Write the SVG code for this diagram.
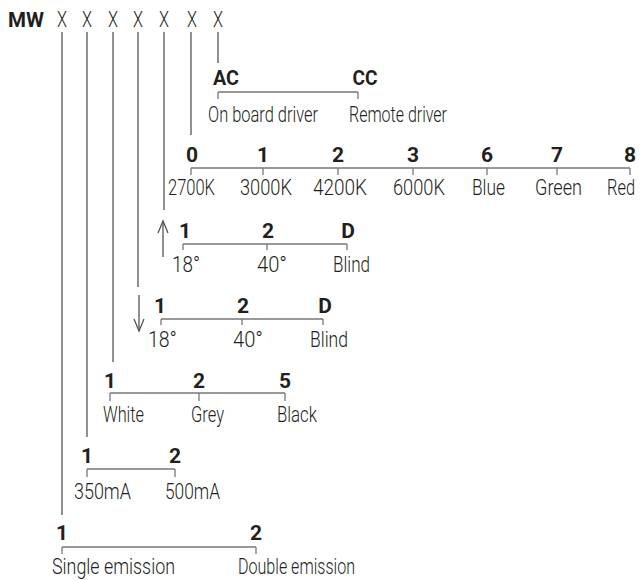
<svg xmlns="http://www.w3.org/2000/svg" width="644" height="580" viewBox="0 0 644 580">
<style>
text{font-family:Roboto,"Liberation Sans",Arial,sans-serif;fill:#231f20}
.n{font-weight:bold;font-size:21px;text-anchor:middle}
.l{font-size:22px;font-weight:300}
.x{font-size:22px;font-weight:300}
.c line,.c polyline{stroke:#555;stroke-width:1.3;fill:none}
.b line{stroke:#777;stroke-width:1.3}
</style>
<rect width="644" height="580" fill="#fff"/>
<g id="code">
<text x="8" y="27" font-weight="bold" font-size="21" textLength="36" lengthAdjust="spacingAndGlyphs">MW</text>
<text class="x" x="57" y="27" textLength="10" lengthAdjust="spacingAndGlyphs">X</text><text class="x" x="82" y="27" textLength="10" lengthAdjust="spacingAndGlyphs">X</text><text class="x" x="108" y="27" textLength="10" lengthAdjust="spacingAndGlyphs">X</text><text class="x" x="133" y="27" textLength="10" lengthAdjust="spacingAndGlyphs">X</text><text class="x" x="159" y="27" textLength="10" lengthAdjust="spacingAndGlyphs">X</text><text class="x" x="187" y="27" textLength="10" lengthAdjust="spacingAndGlyphs">X</text><text class="x" x="213" y="27" textLength="10" lengthAdjust="spacingAndGlyphs">X</text>
</g>
<g id="connectors" class="c">
<line x1="62" y1="32" x2="62" y2="515"/>
<line x1="87" y1="32" x2="87" y2="437"/>
<line x1="113" y1="32" x2="113" y2="362"/>
<line x1="138" y1="32" x2="138" y2="287"/>
<line x1="164" y1="32" x2="164" y2="210"/>
<line x1="191" y1="32" x2="191" y2="135"/>
<line x1="218" y1="32" x2="218" y2="63"/>
<line x1="163" y1="257" x2="163" y2="221"/>
<polyline points="158,233 163,221 168,233"/>
<line x1="139" y1="295" x2="139" y2="331"/>
<polyline points="134,319 139,331 144,319"/>
</g>
<g id="driver" class="b">
<text class="n" x="226" y="85" textLength="26" lengthAdjust="spacingAndGlyphs">AC</text><text class="n" x="365" y="85" textLength="25" lengthAdjust="spacingAndGlyphs">CC</text>
<line x1="218" y1="92" x2="358" y2="92"/><line x1="218" y1="92" x2="218" y2="99"/><line x1="358" y1="92" x2="358" y2="99"/>
<text class="l" x="208" y="122" textLength="110" lengthAdjust="spacingAndGlyphs">On board driver</text>
<text class="l" x="349" y="122" textLength="98" lengthAdjust="spacingAndGlyphs">Remote driver</text>
</g>
<g id="colour-temp" class="b">
<text class="n" x="192" y="162">0</text><text class="n" x="263" y="162">1</text><text class="n" x="338" y="162">2</text><text class="n" x="413" y="162">3</text><text class="n" x="487" y="162">6</text><text class="n" x="557" y="162">7</text><text class="n" x="630" y="162">8</text>
<line x1="191" y1="168" x2="630" y2="168"/>
<line x1="191" y1="168" x2="191" y2="175"/><line x1="263" y1="168" x2="263" y2="175"/><line x1="338" y1="168" x2="338" y2="175"/><line x1="413" y1="168" x2="413" y2="175"/><line x1="487" y1="168" x2="487" y2="175"/><line x1="557" y1="168" x2="557" y2="175"/><line x1="630" y1="168" x2="630" y2="175"/>
<text class="l" x="168" y="195" textLength="47" lengthAdjust="spacingAndGlyphs">2700K</text>
<text class="l" x="240" y="195" textLength="52" lengthAdjust="spacingAndGlyphs">3000K</text>
<text class="l" x="313" y="195" textLength="54" lengthAdjust="spacingAndGlyphs">4200K</text>
<text class="l" x="393" y="195" textLength="52" lengthAdjust="spacingAndGlyphs">6000K</text>
<text class="l" x="472" y="195" textLength="33" lengthAdjust="spacingAndGlyphs">Blue</text>
<text class="l" x="535" y="195" textLength="47" lengthAdjust="spacingAndGlyphs">Green</text>
<text class="l" x="607" y="195" textLength="28" lengthAdjust="spacingAndGlyphs">Red</text>
</g>
<g id="optic-up" class="b">
<text class="n" x="185" y="238">1</text><text class="n" x="268" y="238">2</text><text class="n" x="348" y="238">D</text>
<line x1="183" y1="244" x2="347" y2="244"/><line x1="183" y1="244" x2="183" y2="250"/><line x1="267" y1="244" x2="267" y2="250"/><line x1="347" y1="244" x2="347" y2="250"/>
<text class="l" x="172" y="272" textLength="28" lengthAdjust="spacingAndGlyphs">18°</text>
<text class="l" x="257" y="272" textLength="30" lengthAdjust="spacingAndGlyphs">40°</text>
<text class="l" x="333" y="272" textLength="37" lengthAdjust="spacingAndGlyphs">Blind</text>
</g>
<g id="optic-down" class="b">
<text class="n" x="160" y="313">1</text><text class="n" x="243" y="313">2</text><text class="n" x="325" y="313">D</text>
<line x1="161" y1="319" x2="323" y2="319"/><line x1="161" y1="319" x2="161" y2="325"/><line x1="242" y1="319" x2="242" y2="325"/><line x1="323" y1="319" x2="323" y2="325"/>
<text class="l" x="148" y="347" textLength="29" lengthAdjust="spacingAndGlyphs">18°</text>
<text class="l" x="233" y="347" textLength="30" lengthAdjust="spacingAndGlyphs">40°</text>
<text class="l" x="310" y="347" textLength="38" lengthAdjust="spacingAndGlyphs">Blind</text>
</g>
<g id="finish" class="b">
<text class="n" x="110" y="388">1</text><text class="n" x="199" y="388">2</text><text class="n" x="285" y="388">5</text>
<line x1="110" y1="393" x2="285" y2="393"/><line x1="110" y1="393" x2="110" y2="401"/><line x1="199" y1="393" x2="199" y2="401"/><line x1="285" y1="393" x2="285" y2="401"/>
<text class="l" x="103" y="422" textLength="41" lengthAdjust="spacingAndGlyphs">White</text>
<text class="l" x="191" y="422" textLength="33" lengthAdjust="spacingAndGlyphs">Grey</text>
<text class="l" x="277" y="422" textLength="40" lengthAdjust="spacingAndGlyphs">Black</text>
</g>
<g id="current" class="b">
<text class="n" x="87" y="463">1</text><text class="n" x="175" y="463">2</text>
<line x1="87" y1="469" x2="175" y2="469"/><line x1="87" y1="469" x2="87" y2="477"/><line x1="175" y1="469" x2="175" y2="477"/>
<text class="l" x="74" y="499" textLength="57" lengthAdjust="spacingAndGlyphs">350mA</text>
<text class="l" x="165" y="499" textLength="55" lengthAdjust="spacingAndGlyphs">500mA</text>
</g>
<g id="emission" class="b">
<text class="n" x="62" y="540">1</text><text class="n" x="256" y="540">2</text>
<line x1="62" y1="547" x2="256" y2="547"/><line x1="62" y1="547" x2="62" y2="554"/><line x1="256" y1="547" x2="256" y2="554"/>
<text class="l" x="52" y="574" textLength="123" lengthAdjust="spacingAndGlyphs">Single emission</text>
<text class="l" x="238" y="574" textLength="117" lengthAdjust="spacingAndGlyphs">Double emission</text>
</g>
</svg>
